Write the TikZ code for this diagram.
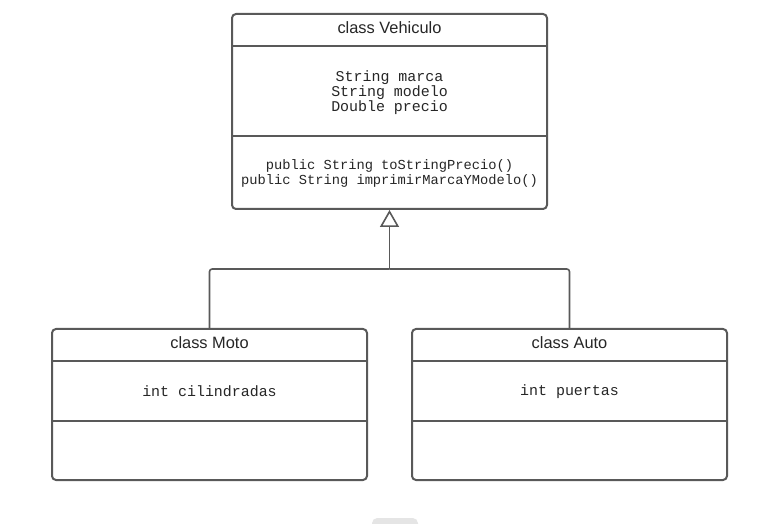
\documentclass[tikz,border=0pt]{standalone}
\usepackage{fontspec}
\setmainfont{Liberation Sans}
\setmonofont{Liberation Mono}
\usetikzlibrary{arrows.meta}
\definecolor{linegray}{HTML}{595959}
\definecolor{txt}{HTML}{262626}
\begin{document}
\begin{tikzpicture}[x=0.75pt,y=-0.75pt,
  classbox/.style={draw=linegray, line width=1.5pt, rounded corners=3pt, rectangle, inner sep=0pt},
  divider/.style={draw=linegray, line width=1.5pt},
  title/.style={font=\fontsize{12.3}{14}\selectfont, text=txt},
  mono/.style={font=\ttfamily\fontsize{10.3}{11.25}\selectfont, text=txt, align=center},
  monobig/.style={font=\ttfamily\fontsize{11.2}{11.25}\selectfont, text=txt, align=center},
  conn/.style={draw=linegray, line width=1.2pt, rounded corners=2pt},
  inherit/.style={conn, -{Triangle[open, fill=white, length=17*0.75pt, width=19*0.75pt]}}]
\useasboundingbox (0,0) rectangle (772,524);
\fill[white] (0,0) rectangle (772,524);

% Vehiculo
\node[classbox, minimum width=315*0.75pt, minimum height=195*0.75pt] (veh) at (389.5,111.5) {};
\draw[divider] (232,46) -- (547,46);
\draw[divider] (232,136) -- (547,136);
\node[title] (vehT) at (389.5,28) {class Vehiculo};
\node[monobig] (vehA) at (389.5,93) {String marca\\String modelo\\Double precio};
\node[mono] (vehM) at (389.5,173) {public String toStringPrecio()\\public String imprimirMarcaYModelo()};

% Moto
\node[classbox, minimum width=315*0.75pt, minimum height=151*0.75pt] (moto) at (209.5,404.5) {};
\draw[divider] (52,361) -- (367,361);
\draw[divider] (52,421) -- (367,421);
\node[title] (motoT) at (209.5,343) {class Moto};
\node[monobig] (motoA) at (209.5,391.5) {int cilindradas};

% Auto
\node[classbox, minimum width=315*0.75pt, minimum height=151*0.75pt] (auto) at (569.5,404.5) {};
\draw[divider] (412,361) -- (727,361);
\draw[divider] (412,421) -- (727,421);
\node[title] (autoT) at (569.5,343) {class Auto};
\node[monobig] (autoA) at (569.5,391.5) {int puertas};

% Inheritance connectors
\coordinate (j) at (389.5,269);
\draw[conn] (moto.north) |- (j);
\draw[conn] (auto.north) |- (j);
\draw[inherit] (j) -- (veh.south);

% partially visible grey tab at the bottom edge
\fill[black!10, rounded corners=4pt] (372,518) rectangle (418,534);
\end{tikzpicture}
\end{document}
